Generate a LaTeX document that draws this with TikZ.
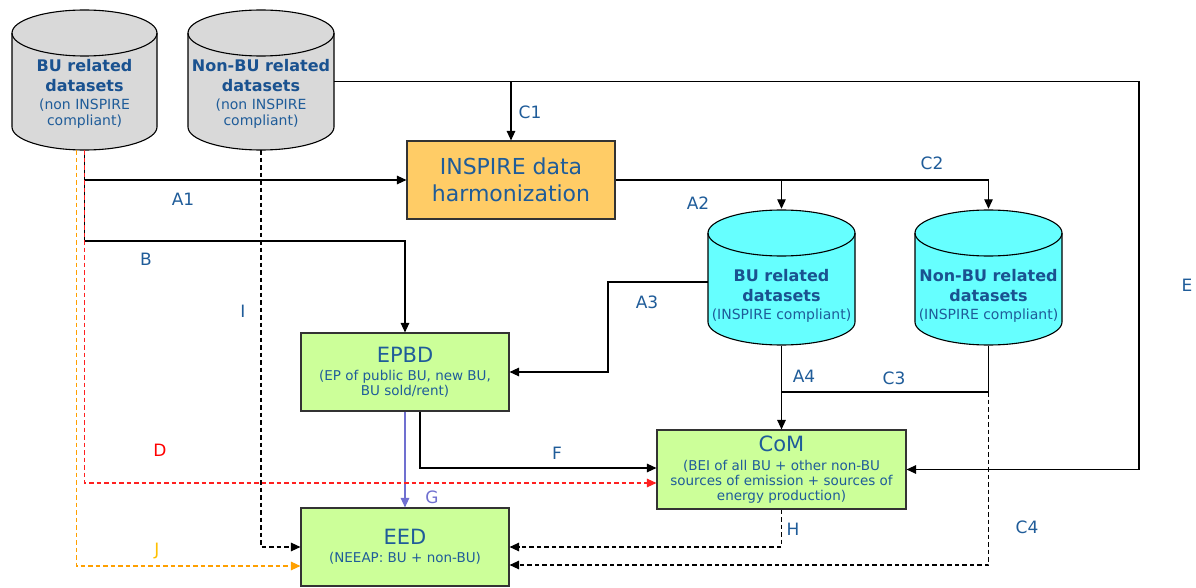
\documentclass[tikz,border=0pt]{standalone}
\usepackage{fontspec}
\setmainfont{DejaVu Sans}
\usetikzlibrary{arrows.meta}

\definecolor{txtblue}{HTML}{1F5C99}
\definecolor{boldblue}{HTML}{1A5290}
\definecolor{dbgray}{HTML}{D9D9D9}
\definecolor{dbcyan}{HTML}{66FFFF}
\definecolor{procorange}{HTML}{FFCC66}
\definecolor{polgreen}{HTML}{CCFF99}
\definecolor{linered}{HTML}{FF2020}
\definecolor{lineorange}{HTML}{FFA000}
\definecolor{txtyellow}{HTML}{FFC000}
\definecolor{linepurple}{HTML}{7070D0}

% database cylinder: left x, right x, top-ellipse centre y, bottom-ellipse centre y, fill
\newcommand\drawdb[5]{%
  \pgfmathsetmacro\dbrx{(#2-#1)/2}%
  \filldraw[dbline, fill=#5] (#1,#3) -- (#1,#4)
    arc[start angle=180, end angle=360, x radius=\dbrx pt, y radius=23pt]
    -- (#2,#3)
    arc[start angle=0, end angle=180, x radius=\dbrx pt, y radius=23pt] -- cycle;
  \draw[dbline] (#1,#3)
    arc[start angle=180, end angle=360, x radius=\dbrx pt, y radius=23pt];
}
\newcommand\dbtitle[1]{{\fontsize{16}{19}\selectfont\bfseries\color{boldblue}#1}}

\begin{document}
\begin{tikzpicture}[x=1pt, y=-1pt,
  >={Triangle[length=9.5pt,width=8.5pt]},
  dbline/.style={draw=black, line width=1.1pt},
  dbframe/.style={minimum width=#1, minimum height=137pt, inner sep=0pt},
  dbtext/.style={align=center, text=txtblue, inner sep=0pt,
    font=\fontsize{14}{16.5}\selectfont},
  box/.style={draw=black!80, line width=1.1pt, minimum width=208pt,
    minimum height=78pt, inner sep=0pt, align=center, text=txtblue},
  conn/.style={draw=black, line width=1.2pt},
  dsh/.style={dash pattern=on 4.5pt off 3pt},
  lbl/.style={text=txtblue, inner sep=0pt, font=\fontsize{17}{20}\selectfont},
]
\useasboundingbox (0,0) rectangle (1196,588);
\fill[white] (0,0) rectangle (1196,588);

% ---------- data stores ----------
\drawdb{12}{157}{33}{127}{dbgray}
\drawdb{188}{334}{33}{127}{dbgray}
\drawdb{708}{855}{233}{322}{dbcyan}
\drawdb{915}{1062}{233}{322}{dbcyan}

\node[dbframe=145pt] (gbu)  at (84.5,81.5) {};
\node[dbframe=146pt] (ngbu) at (261,81.5) {};
\node[dbframe=147pt] (cbu)  at (781.5,277.5) {};
\node[dbframe=147pt] (ncbu) at (988.5,277.5) {};

\node[dbtext] (gbu-t) at (84.5,94)
  {\dbtitle{BU related}\\[4pt]
   \dbtitle{datasets}\\[1pt]
   (non INSPIRE\\compliant)};
\node[dbtext] (ngbu-t) at (261,94)
  {\dbtitle{Non-BU related}\\[4pt]
   \dbtitle{datasets}\\[1pt]
   (non INSPIRE\\compliant)};
\node[dbtext] (cbu-t) at (781.5,295.5)
  {\dbtitle{BU related}\\[4pt]
   \dbtitle{datasets}\\[1pt]
   (INSPIRE compliant)};
\node[dbtext] (ncbu-t) at (988.5,295.5)
  {\dbtitle{Non-BU related}\\[4pt]
   \dbtitle{datasets}\\[1pt]
   (INSPIRE compliant)};

% ---------- processes and policies ----------
\node[box, fill=procorange, font=\fontsize{22}{27}\selectfont] (insp) at (511,180)
  {INSPIRE data\\harmonization};
\node[box, fill=polgreen, font=\fontsize{13.5}{15.5}\selectfont] (epbd) at (405,372)
  {{\fontsize{21}{21}\selectfont EPBD}\\[2.5pt]
   (EP of public BU, new BU,\\BU sold/rent)};
\node[box, fill=polgreen, minimum width=249pt, minimum height=79pt,
      font=\fontsize{13.5}{15}\selectfont] (com) at (781.5,469.5)
  {{\fontsize{21}{21}\selectfont CoM}\\[4pt]
   (BEI of all BU + other non-BU\\sources of emission + sources of\\energy production)};
\node[box, fill=polgreen, font=\fontsize{13.5}{15.5}\selectfont] (eed) at (405,547)
  {{\fontsize{21}{21}\selectfont EED}\\[2.5pt]
   (NEEAP: BU + non-BU)};

% ---------- helper corners ----------
\coordinate (bjoint) at (84.5,241);
\coordinate (ecorner) at (1139,81.5);
\coordinate (a3corner) at (608,300);
\coordinate (c3joint) at (988.5,392);

% ---------- solid flows ----------
\draw[conn] (gbu.south) -- (bjoint);
\draw[conn,->] (gbu.south |- insp.west) -- (insp.west);
\draw[conn,->] (bjoint) -| (epbd.north);
\draw[conn] (ngbu.east) -- (ecorner);
\draw[conn,->] (insp.north |- ngbu.east) -- (insp.north);
\draw[conn,->] (ecorner) |- (com.east);
\draw[conn,->] (insp.east) -| (ncbu.north);
\draw[conn,->] (insp.east -| cbu.north) -- (cbu.north);
\draw[conn,->] ([yshift=-4.5pt]cbu.west) -| (a3corner) |- (epbd.east);
\draw[conn,->] (cbu.south) -- (com.north);
\draw[conn] (ncbu.south) -- (c3joint) -- (c3joint -| cbu.south);
\draw[conn,->] ([xshift=15pt]epbd.south) |- ([yshift=1.5pt]com.west);
\draw[conn, draw=linepurple, ->, color=linepurple] (epbd.south) -- (eed.north);

% ---------- dashed flows ----------
\draw[conn,dsh,->] (ngbu.south) |- (eed.west);
\draw[conn,dsh,->] (com.south) |- (eed.east);
\draw[conn,dsh,->] (c3joint) |- ([yshift=-18pt]eed.east);
\draw[conn,dsh,draw=linered,color=linered,->] (gbu.south) |- ([yshift=-13.5pt]com.west);
\draw[conn,dsh,draw=lineorange,color=lineorange,->] ([xshift=-8pt]gbu.south) |- ([yshift=-19pt]eed.west);

% ---------- flow labels ----------
\node[lbl] (l-c1) at (530,112) {C1};
\node[lbl] (l-a1) at (183,199) {A1};
\node[lbl] (l-b)  at (146,259) {B};
\node[lbl] (l-a2) at (698,203) {A2};
\node[lbl] (l-c2) at (932,163) {C2};
\node[lbl] (l-a3) at (647,302) {A3};
\node[lbl] (l-i)  at (243,311) {I};
\node[lbl] (l-e)  at (1187,285) {E};
\node[lbl] (l-a4) at (804,376) {A4};
\node[lbl] (l-c3) at (894,378) {C3};
\node[lbl, text=red] (l-d) at (160,450) {D};
\node[lbl] (l-f)  at (557,453) {F};
\node[lbl, text=linepurple] (l-g) at (432,497) {G};
\node[lbl] (l-h)  at (793,529) {H};
\node[lbl] (l-c4) at (1027,527) {C4};
\node[lbl, text=txtyellow] (l-j) at (157,551) {J};
\end{tikzpicture}
\end{document}
